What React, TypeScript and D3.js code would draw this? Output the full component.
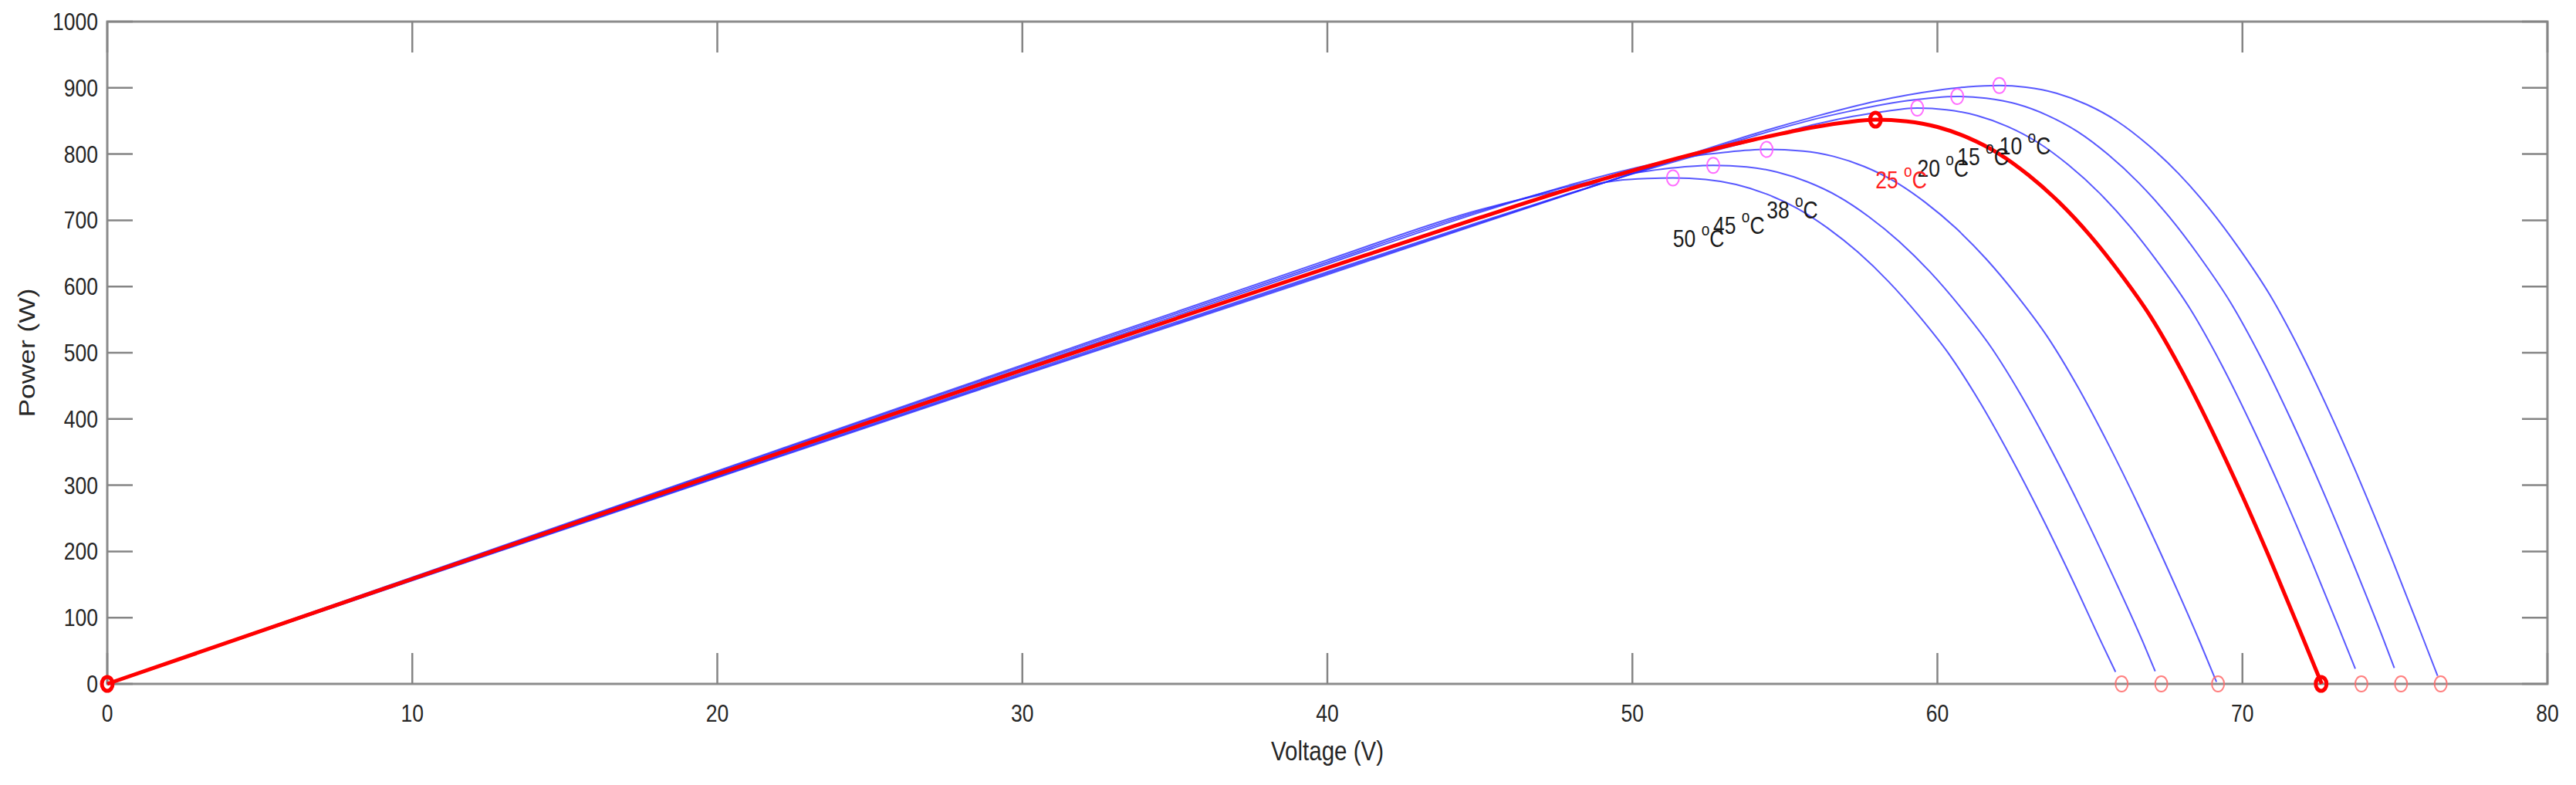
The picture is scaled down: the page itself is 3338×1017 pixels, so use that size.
import React from "react";
import * as d3 from "d3";

// temperatures of the curves, in the order they are listed below
const temps = [10, 15, 20, 25, 38, 45, 50];

// P-V curves (V in volts, P in watts)
const v10 = [0, 10, 20, 30, 40, 45, 48, 50, 52, 54, 56, 58, 59, 60, 61, 62.03, 62.9, 63.9, 64.9, 65.9, 66.9, 67.9, 68.9, 69.9, 70.9, 71.9, 72.9, 73.9, 74.9, 75.9, 76.4];
const p10 = [0, 156, 311.4, 466, 618, 694.8, 740.6, 771, 801.3, 830.5, 856.8, 879.9, 889.1, 896.4, 901.6, 903.6, 900.9, 891.9, 874.7, 849.4, 814.1, 770.8, 718.4, 656.9, 587.3, 502.4, 405.7, 300.9, 188.9, 71.4, 12];

const v15 = [0, 10, 20, 30, 40, 45, 48, 50, 52, 54, 56, 57, 58, 59, 60.65, 61.6, 62.6, 63.6, 64.6, 65.6, 66.6, 67.6, 68.6, 69.6, 70.6, 71.6, 72.6, 73.6, 74.6, 74.98];
const p15 = [0, 156.5, 312.4, 467.5, 620, 696, 741, 770.5, 799.5, 827.6, 853, 863.5, 873, 880.5, 887, 884.3, 875.5, 858.6, 833.8, 799.2, 756.6, 705.2, 644.8, 576.6, 493.2, 398.3, 295.4, 185.4, 70.1, 24];

const v20 = [0, 10, 20, 30, 40, 45, 48, 50, 52, 54, 56, 57, 58, 59.34, 60.3, 61.3, 62.3, 63.3, 64.3, 65.3, 66.3, 67.3, 68.3, 69.3, 70.3, 71.3, 72.3, 73.3, 73.7];
const p20 = [0, 157.2, 313.8, 469.5, 622, 697.5, 741.6, 770, 796.6, 820.8, 845, 855, 862.5, 869.5, 866.9, 858.2, 841.7, 817.3, 783.4, 741.7, 691.3, 632.1, 565.2, 483.4, 390.4, 289.5, 181.7, 68.7, 23];

const v25 = [0, 10, 20, 30, 40, 45, 48, 50, 52, 54, 56, 57, 57.97, 59, 60, 61, 62, 63, 64, 65, 66, 67, 68, 69, 70, 71, 72, 72.6];
const p25 = [0, 158.5, 316.5, 474, 628, 704, 748, 775, 800, 822, 841, 848, 852, 849.4, 840.9, 824.7, 800.9, 767.7, 726.8, 677.3, 619.4, 553.8, 473.7, 382.5, 283.7, 178.1, 67.3, 0];

const v38 = [0, 10, 20, 30, 40, 45, 48, 50, 52, 53, 54.4, 55.6, 56.6, 57.6, 58.6, 59.6, 60.6, 61.6, 62.6, 63.6, 64.6, 65.6, 66.6, 67.6, 68.6, 69.15];
const p38 = [0, 159.5, 318.6, 476.7, 634, 712, 754, 778, 797, 802.5, 807, 804.6, 796.5, 781.2, 758.6, 727.1, 688.4, 641.6, 586.7, 524.6, 448.7, 362.3, 268.7, 168.7, 63.8, 3];

const v45 = [0, 10, 20, 30, 40, 45, 48, 50, 51, 52.65, 53.75, 54.75, 55.75, 56.75, 57.75, 58.75, 59.75, 60.75, 61.75, 62.75, 63.75, 64.75, 65.75, 66.75, 67.14];
const p45 = [0, 160.3, 320.2, 479.4, 637, 714, 752, 771, 777.5, 783, 780.7, 772.8, 757.9, 736.0, 705.5, 667.9, 622.5, 569.2, 509.0, 435.3, 351.6, 260.7, 163.6, 61.9, 19];

const v50 = [0, 10, 20, 30, 40, 45, 48, 49.5, 50.5, 51.33, 52.4, 53.4, 54.4, 55.4, 56.4, 57.4, 58.4, 59.4, 60.4, 61.4, 62.4, 63.4, 64.4, 65.4, 65.84];
const p50 = [0, 161, 321.5, 481.5, 640, 716, 748, 760, 763, 764, 761.7, 754.1, 739.6, 718.2, 688.4, 651.7, 607.4, 555.4, 496.6, 424.8, 343.0, 254.4, 159.7, 60.4, 18];

// maximum power points and open-circuit voltages (same order as temps)
const mppV = [62.03, 60.65, 59.34, 57.97, 54.4, 52.65, 51.33];
const mppP = [903.6, 887, 869.5, 852, 807, 783, 764];
const vocV = [76.5, 75.2, 73.9, 72.58, 69.2, 67.34, 66.04];

const xTicks = [0, 10, 20, 30, 40, 50, 60, 70, 80];
const yTicks = [0, 100, 200, 300, 400, 500, 600, 700, 800, 900, 1000];

const W = 3338;
const H = 1017;
const left = 139, right = 3301, top = 28, bottom = 886;
const FONT = "'Liberation Sans', Arial, Helvetica, sans-serif";
const STRETCH = 1.2; // the figure is stretched vertically

const Txt = ({ x, y, size, fill = "#262626", anchor = "middle", children }: any) => (
  <text
    transform={`translate(${x},${y}) scale(1,${STRETCH})`}
    fontSize={size}
    fill={fill}
    textAnchor={anchor}
    fontFamily={FONT}
  >
    {children}
  </text>
);

export default function App() {
  const x = d3.scaleLinear().domain([0, 80]).range([left, right]);
  const y = d3.scaleLinear().domain([0, 1000]).range([bottom, top]);

  const curves = [
    [v10, p10], [v15, p15], [v20, p20], [v25, p25], [v38, p38], [v45, p45], [v50, p50],
  ];
  const line = d3
    .line<[number, number]>()
    .x((d) => x(d[0]))
    .y((d) => y(d[1]))
    .curve(d3.curveMonotoneX);
  const paths = curves.map(([vs, ps]) => line(vs.map((v, i) => [v, ps[i]]) as [number, number][]) || "");

  const redIdx = temps.indexOf(25);
  const tickFs = 26.5;

  return (
    <svg width={W} height={H} style={{ position: "absolute", left: 0, top: 0, background: "#fff" }}>
      <rect x={0} y={0} width={W} height={H} fill="#fff" />
      {/* box */}
      <rect x={left} y={top} width={right - left} height={bottom - top} fill="none" stroke="#8c8c8c" strokeWidth={3} />

      {/* ticks on all four sides */}
      {xTicks.map((t) => (
        <g key={"xt" + t} stroke="#858585" strokeWidth={2.5}>
          <line x1={x(t)} x2={x(t)} y1={bottom} y2={bottom - 40} />
          <line x1={x(t)} x2={x(t)} y1={top} y2={top + 40} />
        </g>
      ))}
      {yTicks.map((t) => (
        <g key={"yt" + t} stroke="#858585" strokeWidth={2.5}>
          <line x1={left} x2={left + 33} y1={y(t)} y2={y(t)} />
          <line x1={right} x2={right - 33} y1={y(t)} y2={y(t)} />
        </g>
      ))}

      {/* tick labels */}
      {xTicks.map((t) => (
        <Txt key={"xl" + t} x={x(t)} y={935} size={tickFs}>{t}</Txt>
      ))}
      {yTicks.map((t) => (
        <Txt key={"yl" + t} x={127} y={y(t) + 11} size={tickFs} anchor="end">{t}</Txt>
      ))}

      {/* axis labels */}
      <Txt x={(left + right) / 2} y={985} size={29.5}>Voltage (V)</Txt>
      <text
        transform={`translate(45,${(top + bottom) / 2}) rotate(-90) scale(${STRETCH},1)`}
        fontSize={29.5}
        fill="#262626"
        textAnchor="middle"
        fontFamily={FONT}
      >
        Power (W)
      </text>

      {/* blue curves */}
      {paths.map((d, i) =>
        i === redIdx ? null : (
          <path key={"c" + i} d={d} fill="none" stroke="#2a2aff" strokeOpacity={0.78} strokeWidth={2} />
        )
      )}
      {/* 25 °C curve */}
      <path d={paths[redIdx]} fill="none" stroke="#ff0000" strokeWidth={5} />

      {/* markers */}
      {temps.map((t, i) =>
        i === redIdx ? null : (
          <g key={"m" + t} fill="none" strokeWidth={2}>
            <ellipse cx={x(mppV[i])} cy={y(mppP[i])} rx={8} ry={10} stroke="#ff55ff" strokeOpacity={0.85} />
            <ellipse cx={x(vocV[i])} cy={y(0)} rx={8} ry={10} stroke="#ff6a6a" strokeOpacity={0.85} />
          </g>
        )
      )}
      <g fill="none" stroke="#ff0000" strokeWidth={5}>
        <ellipse cx={x(mppV[redIdx])} cy={y(mppP[redIdx])} rx={7} ry={9} />
        <ellipse cx={x(vocV[redIdx])} cy={y(0)} rx={7} ry={9} />
        <ellipse cx={x(0)} cy={y(0)} rx={7} ry={9} />
      </g>

      {/* temperature labels below each MPP */}
      {temps.map((t, i) => {
        const fill = i === redIdx ? "#ff2020" : "#1a1a1a";
        return (
          <Txt key={"lab" + t} x={x(mppV[i])} y={y(mppP[i] - 104)} size={tickFs} fill={fill} anchor="start">
            <tspan>{t} </tspan>
            <tspan fontSize={tickFs * 0.72} dy={-tickFs * 0.47}>o</tspan>
            <tspan dy={tickFs * 0.47}>C</tspan>
          </Txt>
        );
      })}
    </svg>
  );
}
